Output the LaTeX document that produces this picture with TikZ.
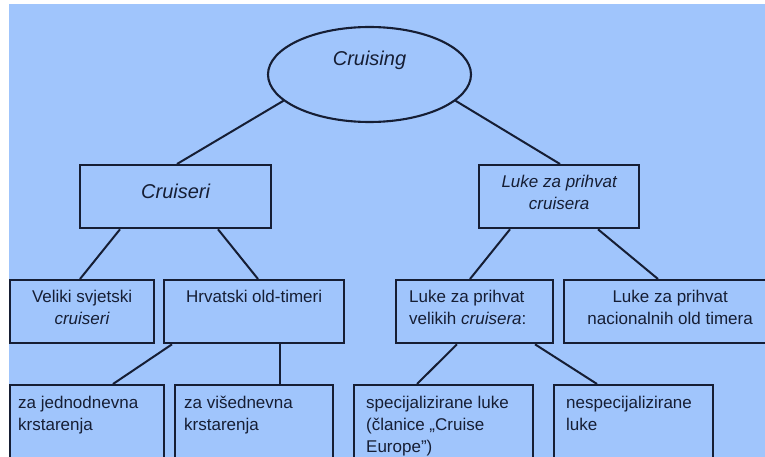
\documentclass[tikz,border=0pt]{standalone}
\usepackage{fontspec}
\setmainfont{Liberation Sans}
\usetikzlibrary{shapes.geometric}
\definecolor{sheet}{RGB}{160,197,252}
\definecolor{ink}{RGB}{22,30,52}

\begin{document}
\begin{tikzpicture}[x=1pt,y=-1pt,
  frame/.style={draw=ink, line width=2.3pt, rectangle, inner sep=0pt,
                anchor=north west},
  oval/.style={draw=ink, line width=2.1pt, ellipse, inner sep=0pt},
  link/.style={draw=ink, line width=2pt},
  body/.style={text=ink, inner sep=0pt, font=\fontsize{17}{22}\selectfont},
  big/.style={text=ink, inner sep=0pt, font=\fontsize{20}{24}\selectfont\itshape}]

% page and blue sheet
\useasboundingbox (0,0) rectangle (765,457);
\clip (0,0) rectangle (765,457);
\fill[white] (0,0) rectangle (765,457);
\fill[sheet] (9,4) rectangle (765,457);

% root
\node[oval, minimum width=203pt, minimum height=95pt] (root) at (369.5,74.5) {};
\node[big, anchor=center] (rootT) at ([yshift=14pt]root.center) {Cruising};

% second level
\node[frame, minimum width=191pt, minimum height=63pt] (cr) at (79,164) {};
\node[big, anchor=center] (crT) at ([yshift=5pt]cr.center) {Cruiseri};

\node[frame, minimum width=160pt, minimum height=63pt] (lk) at (478,164) {};
\node[body, align=center, anchor=north, font=\fontsize{17}{22}\selectfont\itshape]
  (lkT) at ([yshift=-11pt]lk.north) {Luke za prihvat\\cruisera};

% third level
\node[frame, minimum width=144pt, minimum height=63pt] (vs) at (9,279) {};
\node[body, align=center, anchor=north] (vsT) at ([yshift=-11pt]vs.north)
  {Veliki svjetski\\\textit{cruiseri}};

\node[frame, minimum width=180pt, minimum height=63pt] (hr) at (163,279) {};
\node[body, align=center, anchor=north] (hrT) at ([yshift=-11pt]hr.north)
  {Hrvatski old-timeri};

\node[frame, minimum width=157pt, minimum height=63pt] (lv) at (395,279) {};
\node[body, align=left, anchor=north west] (lvT) at ([xshift=14pt,yshift=-11pt]lv.north west)
  {Luke za prihvat\\velikih \textit{cruisera}:};

\node[frame, minimum width=220pt, minimum height=63pt] (ln) at (563,279) {};
\node[body, align=center, anchor=north] (lnT) at ([xshift=-4pt,yshift=-11pt]ln.north)
  {Luke za prihvat\\nacionalnih old timera};

% fourth level
\node[frame, minimum width=154pt, minimum height=90pt] (j1) at (9,384) {};
\node[body, align=left, anchor=north west] (j1T) at ([xshift=9pt,yshift=-12pt]j1.north west)
  {za jednodnevna\\krstarenja};

\node[frame, minimum width=158pt, minimum height=90pt] (j2) at (174,384) {};
\node[body, align=left, anchor=north west] (j2T) at ([xshift=10pt,yshift=-12pt]j2.north west)
  {za višednevna\\krstarenja};

\node[frame, minimum width=179pt, minimum height=90pt] (sp) at (353,384) {};
\node[body, align=left, anchor=north west] (spT) at ([xshift=13pt,yshift=-12pt]sp.north west)
  {specijalizirane luke\\(članice „Cruise\\Europe”)};

\node[frame, minimum width=159pt, minimum height=90pt] (ns) at (553,384) {};
\node[body, align=left, anchor=north west] (nsT) at ([xshift=13pt,yshift=-12pt]ns.north west)
  {nespecijalizirane\\luke};

% connectors
\draw[link] (root.-163) -- ([xshift=98pt]cr.north west);
\draw[link] (root.-17) -- ([xshift=82pt]lk.north west);

\draw[link] ([xshift=41pt]cr.south west) -- ([xshift=71pt]vs.north west);
\draw[link] ([xshift=139pt]cr.south west) -- ([xshift=95pt]hr.north west);

\draw[link] ([xshift=32pt]lk.south west) -- ([xshift=75pt]lv.north west);
\draw[link] ([xshift=120pt]lk.south west) -- ([xshift=95pt]ln.north west);

\draw[link] ([xshift=9pt]hr.south west) -- ([xshift=104pt]j1.north west);
\draw[link] ([xshift=117pt]hr.south west) -- ([xshift=106pt]j2.north west);

\draw[link] ([xshift=62pt]lv.south west) -- ([xshift=64pt]sp.north west);
\draw[link] ([xshift=140pt]lv.south west) -- ([xshift=44pt]ns.north west);
\end{tikzpicture}
\end{document}
